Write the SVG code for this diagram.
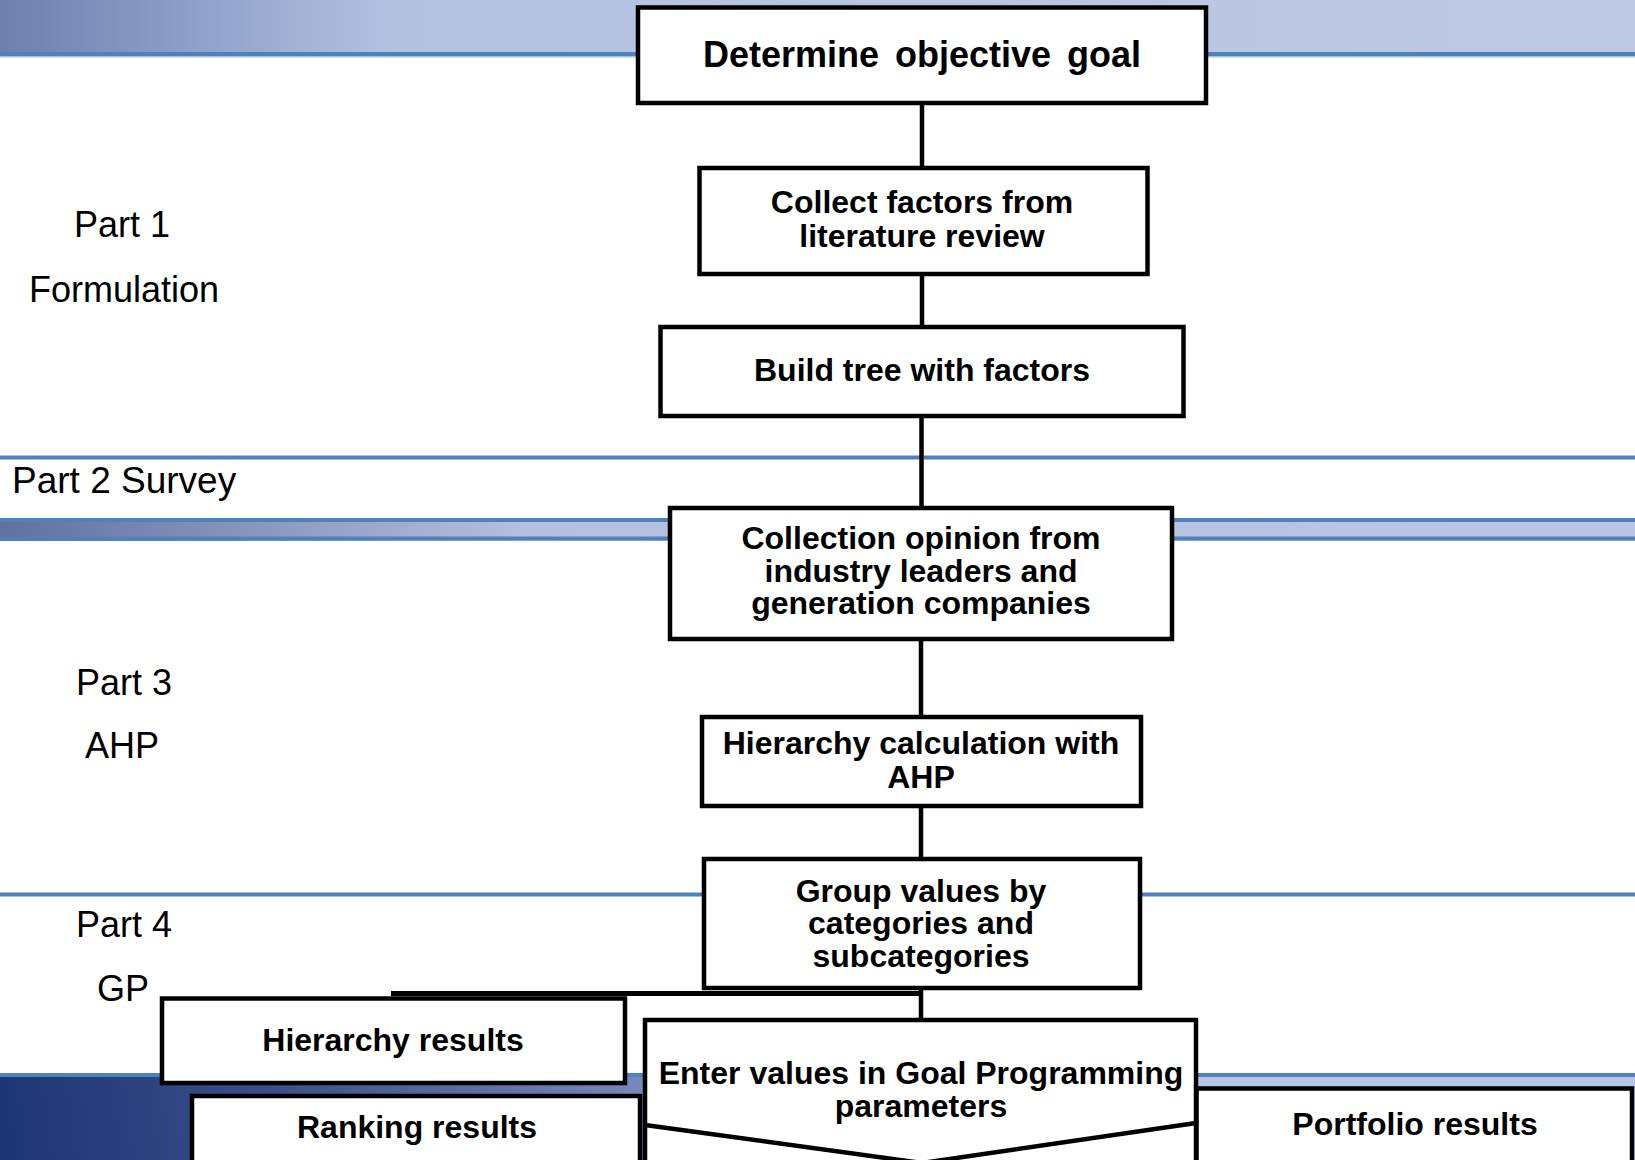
<svg xmlns="http://www.w3.org/2000/svg" width="1635" height="1160" viewBox="0 0 1635 1160">
<style>
.box{fill:#fff;stroke:#000;stroke-width:4.5;stroke-linejoin:miter}
.t{font-family:"Liberation Sans",Arial,sans-serif;font-weight:bold;font-size:32px;text-anchor:middle;fill:#000}
.lbl{font-family:"Liberation Sans",Arial,sans-serif;font-size:36px;fill:#000}
.mid{text-anchor:middle}
.conn{stroke:#000;stroke-width:4.5;fill:none}
.bl{fill:#4f81bd}
</style>
<defs>
<linearGradient id="gTop" x1="0" y1="0" x2="1635" y2="0" gradientUnits="userSpaceOnUse">
<stop offset="0" stop-color="#6f7fae"/>
<stop offset="0.24" stop-color="#b3c1e1"/>
<stop offset="1" stop-color="#bfc9e4"/>
</linearGradient>
<linearGradient id="gMid" x1="0" y1="0" x2="1635" y2="0" gradientUnits="userSpaceOnUse">
<stop offset="0" stop-color="#62709f"/>
<stop offset="0.32" stop-color="#b3c0e0"/>
<stop offset="1" stop-color="#bac6e3"/>
</linearGradient>
<linearGradient id="gBot" x1="0" y1="1160" x2="1100" y2="1000" gradientUnits="userSpaceOnUse">
<stop offset="0" stop-color="#1d3474"/>
<stop offset="0.25" stop-color="#3a4f8a"/>
<stop offset="0.6" stop-color="#7b8bbd"/>
<stop offset="1" stop-color="#b9c5e3"/>
</linearGradient>
</defs>
<g id="bands">
<rect x="0" y="0" width="1635" height="52" fill="url(#gTop)"/>
<rect class="bl" x="0" y="52" width="1635" height="4"/>
<rect x="0" y="56" width="1635" height="1.5" fill="#a9bfe0"/>
<rect class="bl" x="0" y="455.5" width="1635" height="4"/>
<rect x="0" y="518" width="1635" height="23" fill="url(#gMid)"/>
<rect class="bl" x="0" y="518" width="1635" height="4"/>
<rect class="bl" x="0" y="536.5" width="1635" height="4"/>
<rect class="bl" x="0" y="892.5" width="1635" height="4"/>
<rect x="0" y="1077" width="1635" height="83" fill="url(#gBot)"/>
<rect class="bl" x="0" y="1073" width="1635" height="4"/>
</g>
<g id="labels">
<text class="lbl mid" x="122" y="237">Part 1</text>
<text class="lbl mid" x="124" y="302">Formulation</text>
<text class="lbl" x="12" y="493" style="font-size:37px">Part 2 Survey</text>
<text class="lbl mid" x="124" y="695">Part 3</text>
<text class="lbl mid" x="122" y="758">AHP</text>
<text class="lbl mid" x="124" y="937">Part 4</text>
<text class="lbl mid" x="123" y="1001">GP</text>
</g>
<g id="connectors">
<path class="conn" d="M922,105 V166"/>
<path class="conn" d="M922,276 V325"/>
<path class="conn" d="M921.5,418 V506"/>
<path class="conn" d="M921,641 V715"/>
<path class="conn" d="M921,808 V857"/>
<path class="conn" d="M921,990 V1020"/>
<path d="M391,993.5 H921" stroke="#000" stroke-width="5" fill="none"/>
</g>
<g id="n1">
<rect class="box" x="638" y="7.5" width="568" height="95.5"/>
<text class="t" x="922" y="67" style="font-size:36px;word-spacing:6px">Determine objective goal</text>
</g>
<g id="n2">
<rect class="box" x="699.5" y="168" width="448" height="106"/>
<text class="t" x="922" y="213">Collect factors from</text>
<text class="t" x="922" y="247">literature review</text>
</g>
<g id="n3">
<rect class="box" x="660.5" y="327" width="523" height="89"/>
<text class="t" x="922" y="381">Build tree with factors</text>
</g>
<g id="n4">
<rect class="box" x="670" y="508" width="502" height="131"/>
<text class="t" x="921" y="549">Collection opinion from</text>
<text class="t" x="921" y="582">industry leaders and</text>
<text class="t" x="921" y="614">generation companies</text>
</g>
<g id="n5">
<rect class="box" x="702" y="717" width="439" height="89"/>
<text class="t" x="921" y="754">Hierarchy calculation with</text>
<text class="t" x="921" y="788">AHP</text>
</g>
<g id="n6">
<rect class="box" x="704" y="859" width="436" height="129"/>
<text class="t" x="921" y="902">Group values by</text>
<text class="t" x="921" y="934">categories and</text>
<text class="t" x="921" y="967">subcategories</text>
</g>
<g id="n7">
<rect class="box" x="162" y="998.5" width="463" height="84.5"/>
<text class="t" x="393" y="1051">Hierarchy results</text>
</g>
<g id="n8">
<rect class="box" x="192" y="1096" width="448" height="90"/>
<text class="t" x="417" y="1138">Ranking results</text>
</g>
<g id="n10">
<rect class="box" x="1196.5" y="1088.5" width="435.5" height="90"/>
<text class="t" x="1415" y="1135">Portfolio results</text>
</g>
<g id="n9">
<rect class="box" x="645" y="1020" width="551" height="160"/>
<polyline points="645,1125 922,1163 1196,1123" fill="none" stroke="#000" stroke-width="4.5"/>
<text class="t" x="921" y="1084">Enter values in Goal Programming</text>
<text class="t" x="921" y="1117">parameters</text>
</g>
</svg>
